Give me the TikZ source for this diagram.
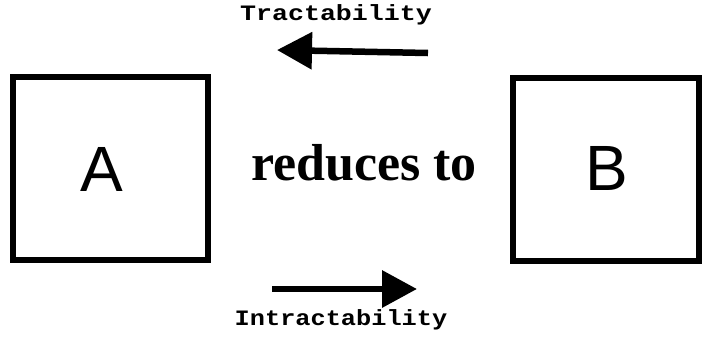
\documentclass[tikz,border=0pt]{standalone}
\usepackage{fontspec}
\usetikzlibrary{arrows.meta}
\newfontfamily\sansA{Liberation Sans}
\newfontfamily\serifB{Liberation Serif}
\newfontfamily\monoC{Liberation Mono}
\tikzset{
  box/.style={draw, line width=6pt, minimum width=#1, minimum height=183pt, inner sep=0pt},
  letter/.style={anchor=base, inner sep=0pt, font=\sansA\fontsize{64}{64}\selectfont},
  mono/.style={anchor=base, inner sep=0pt, font=\monoC\bfseries\fontsize{22}{22}\selectfont},
  bigarrow/.style={line width=6.5pt, -{Triangle[length=35pt,width=36pt]}}
}
\begin{document}
\begin{tikzpicture}[x=1pt,y=-1pt]
\useasboundingbox (0,0) rectangle (703,341);
\node[box=195pt] (boxA) at (110.5,168.5) {};
\node[box=186pt] (boxB) at (606,169.5) {};
\node[letter] (labA) at (102,191) {A};
\node[letter] (labB) at (607,190) {B};
\node[anchor=base, inner sep=0pt, font=\serifB\bfseries\fontsize{52}{52}\selectfont] (red) at (364,180) {reduces to};
\node[mono] (tract) at (336,20) {\scalebox{1.21}[1]{Tractability}};
\node[mono] (intract) at (341,325) {\scalebox{1.15}[1]{Intractability}};
\coordinate (t1) at (428,53);
\coordinate (t2) at (277,50);
\coordinate (b1) at (272,289);
\coordinate (b2) at (417,289);
\draw[bigarrow] (t1) -- (t2);
\draw[bigarrow] (b1) -- (b2);
\end{tikzpicture}
\end{document}
